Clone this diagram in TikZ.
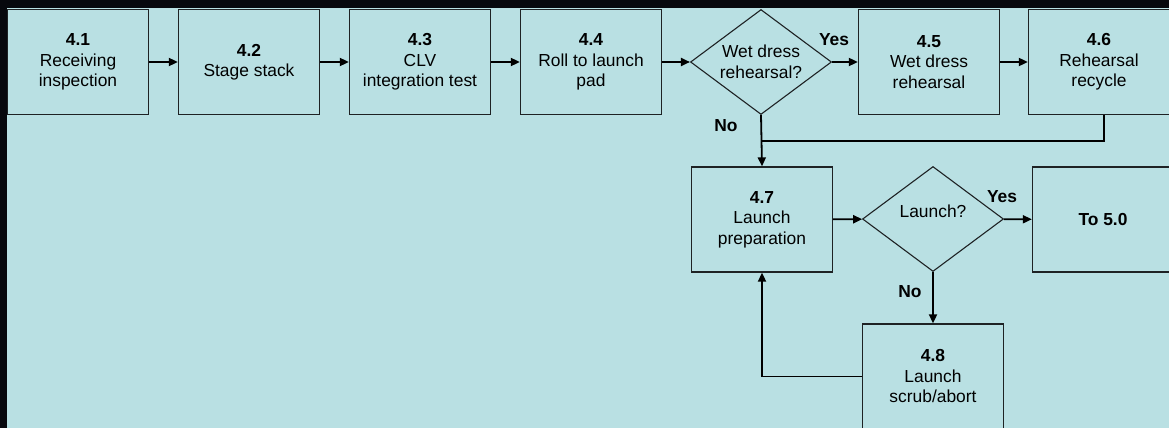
\documentclass[tikz,border=0pt]{standalone}
\usepackage{fontspec}
\setmainfont{Liberation Sans}
\usepackage{tikz}
\usetikzlibrary{arrows.meta,shapes.geometric}
\definecolor{panel}{HTML}{B9E0E3}
\definecolor{frame}{HTML}{07080D}
\definecolor{edge}{HTML}{1E2224}

\begin{document}
\begin{tikzpicture}[x=1pt,y=-1pt,font=\fontsize{17.4}{20.5}\selectfont,
    box/.style={draw=edge,line width=1.3pt,minimum width=141pt,minimum height=105pt,align=center,inner sep=2pt},
    dia/.style={diamond,draw=edge,line width=1.1pt,minimum width=141pt,minimum height=105pt,inner sep=0pt},
    flow/.style={line width=1.8pt,-{Triangle[length=9pt,width=8pt]}},
    lbl/.style={font=\fontsize{17.4}{20.5}\selectfont\bfseries}]
  \useasboundingbox (0,0) rectangle (1169,428);
  \fill[frame] (0,0) rectangle (1169,428);
  \fill[panel] (7,8) rectangle (1169,428);
  % top row
  \foreach \n/\xx/\txt in {41/78/{\textbf{4.1}\\Receiving\\inspection},
      42/249/{\textbf{4.2}\\Stage stack},
      43/420/{\textbf{4.3}\\CLV\\integration test},
      44/591/{\textbf{4.4}\\Roll to launch\\pad},
      45/929/{\textbf{4.5}\\Wet dress\\rehearsal},
      46/1099/{\textbf{4.6}\\Rehearsal\\recycle}}
    \node[box] (n\n) at (\xx,62) {\txt};
  \node[dia,label={[align=center,name=q1]center:Wet dress\\rehearsal?}] (d1) at (761,62) {};
  % second row
  \node[box] (n47) at (762,219.5) {\textbf{4.7}\\Launch\\preparation};
  \node[dia,label={[name=q2,yshift=8pt]center:Launch?}] (d2) at (933,219) {};
  \node[box,font=\fontsize{17.4}{20.5}\selectfont\bfseries] (n50) at (1103,219.5) {To 5.0};
  \node[box] (n48) at (933,376.5) {\textbf{4.8}\\Launch\\scrub/abort};
  \coordinate (j) at (762,141);
  \foreach \a/\b in {n41/n42,n42/n43,n43/n44,n44/d1,d1/n45,n45/n46,n47/d2,d2/n50}
    \draw[flow] (\a) -- (\b);
  \draw[flow] (d1.south) -- (n47.north);
  \draw[line width=1.8pt] ([xshift=5pt]n46.south) |- (j);
  \draw[flow] (d2.south) -- (n48.north);
  \draw[flow] (n48.west) -| (n47.south);
  \node[lbl] (yes1) at (834,40) {Yes};
  \node[lbl] (no1) at (726,126) {No};
  \node[lbl] (yes2) at (1002,197) {Yes};
  \node[lbl] (no2) at (910,292) {No};
\end{tikzpicture}
\end{document}
